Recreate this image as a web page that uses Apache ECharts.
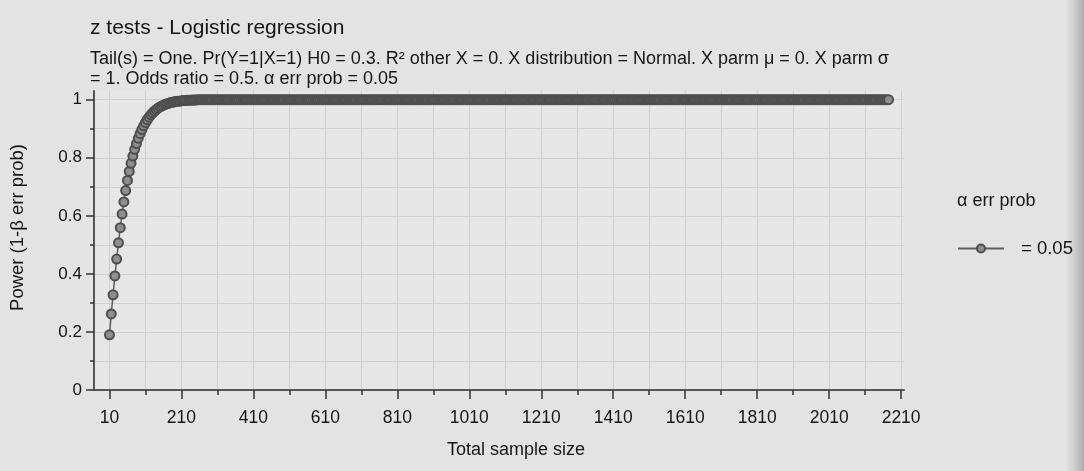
<!DOCTYPE html>
<html>
<head>
<meta charset="utf-8">
<script src="https://cdn.jsdelivr.net/npm/echarts@6/dist/echarts.min.js"></script>
<style>
html,body{margin:0;padding:0;background:#e3e3e3;}
#chart{width:1084px;height:471px;}
</style>
</head>
<body>
<div id="chart"></div>
<script>
var titleText = 'z tests - Logistic regression';
var subtitleText = 'Tail(s) = One. Pr(Y=1|X=1) H0 = 0.3. R\u00B2 other X = 0. X distribution = Normal. X parm \u03BC = 0. X parm \u03C3\n= 1. Odds ratio = 0.5. \u03B1 err prob = 0.05';
var xAxisName = 'Total sample size';
var yAxisName = 'Power (1-\u03B2 err prob)';
var legendTitle = '\u03B1 err prob';
var seriesName = '= 0.05';

var xLabelTicks = [10,210,410,610,810,1010,1210,1410,1610,1810,2010,2210];
var xAllTicks = [10,110,210,310,410,510,610,710,810,910,1010,1110,1210,1310,1410,1510,1610,1710,1810,1910,2010,2110,2210];
var yLabelTicks = [0,0.2,0.4,0.6,0.8,1];
var yAllTicks = [0,0.1,0.2,0.3,0.4,0.5,0.6,0.7,0.8,0.9,1];

var sampleSizes = [
10,15,20,25,30,35,40,45,50,55,60,65,70,75,80,85,90,95,100,105,
110,115,120,125,130,135,140,145,150,155,160,165,170,175,180,185,190,195,200,205,
210,215,220,225,230,235,240,245,250,255,260,265,270,275,280,285,290,295,300,305,
310,315,320,325,330,335,340,345,350,355,360,365,370,375,380,385,390,395,400,405,
410,415,420,425,430,435,440,445,450,455,460,465,470,475,480,485,490,495,500,505,
510,515,520,525,530,535,540,545,550,555,560,565,570,575,580,585,590,595,600,605,
610,615,620,625,630,635,640,645,650,655,660,665,670,675,680,685,690,695,700,705,
710,715,720,725,730,735,740,745,750,755,760,765,770,775,780,785,790,795,800,805,
810,815,820,825,830,835,840,845,850,855,860,865,870,875,880,885,890,895,900,905,
910,915,920,925,930,935,940,945,950,955,960,965,970,975,980,985,990,995,1000,1005,
1010,1015,1020,1025,1030,1035,1040,1045,1050,1055,1060,1065,1070,1075,1080,1085,1090,1095,1100,1105,
1110,1115,1120,1125,1130,1135,1140,1145,1150,1155,1160,1165,1170,1175,1180,1185,1190,1195,1200,1205,
1210,1215,1220,1225,1230,1235,1240,1245,1250,1255,1260,1265,1270,1275,1280,1285,1290,1295,1300,1305,
1310,1315,1320,1325,1330,1335,1340,1345,1350,1355,1360,1365,1370,1375,1380,1385,1390,1395,1400,1405,
1410,1415,1420,1425,1430,1435,1440,1445,1450,1455,1460,1465,1470,1475,1480,1485,1490,1495,1500,1505,
1510,1515,1520,1525,1530,1535,1540,1545,1550,1555,1560,1565,1570,1575,1580,1585,1590,1595,1600,1605,
1610,1615,1620,1625,1630,1635,1640,1645,1650,1655,1660,1665,1670,1675,1680,1685,1690,1695,1700,1705,
1710,1715,1720,1725,1730,1735,1740,1745,1750,1755,1760,1765,1770,1775,1780,1785,1790,1795,1800,1805,
1810,1815,1820,1825,1830,1835,1840,1845,1850,1855,1860,1865,1870,1875,1880,1885,1890,1895,1900,1905,
1910,1915,1920,1925,1930,1935,1940,1945,1950,1955,1960,1965,1970,1975,1980,1985,1990,1995,2000,2005,
2010,2015,2020,2025,2030,2035,2040,2045,2050,2055,2060,2065,2070,2075,2080,2085,2090,2095,2100,2105,
2110,2115,2120,2125,2130,2135,2140,2145,2150,2155,2160,2165,2170,2175
];

var powerValues = [
0.19,0.262,0.328,0.393,0.451,0.507,0.559,0.606,0.648,0.687,0.722,0.753,0.781,0.806,0.829,0.849,0.867,0.883,0.897,0.910,
0.921,0.931,0.940,0.948,0.955,0.961,0.966,0.971,0.975,0.978,0.981,0.984,0.986,0.988,0.990,0.991,0.993,0.994,0.995,0.995,
0.996,0.997,0.997,0.998,0.998,0.998,0.999,0.999,0.999,1,1,1,1,1,1,1,1,1,1,1,
1,1,1,1,1,1,1,1,1,1,1,1,1,1,1,1,1,1,1,1,
1,1,1,1,1,1,1,1,1,1,1,1,1,1,1,1,1,1,1,1,
1,1,1,1,1,1,1,1,1,1,1,1,1,1,1,1,1,1,1,1,
1,1,1,1,1,1,1,1,1,1,1,1,1,1,1,1,1,1,1,1,
1,1,1,1,1,1,1,1,1,1,1,1,1,1,1,1,1,1,1,1,
1,1,1,1,1,1,1,1,1,1,1,1,1,1,1,1,1,1,1,1,
1,1,1,1,1,1,1,1,1,1,1,1,1,1,1,1,1,1,1,1,
1,1,1,1,1,1,1,1,1,1,1,1,1,1,1,1,1,1,1,1,
1,1,1,1,1,1,1,1,1,1,1,1,1,1,1,1,1,1,1,1,
1,1,1,1,1,1,1,1,1,1,1,1,1,1,1,1,1,1,1,1,
1,1,1,1,1,1,1,1,1,1,1,1,1,1,1,1,1,1,1,1,
1,1,1,1,1,1,1,1,1,1,1,1,1,1,1,1,1,1,1,1,
1,1,1,1,1,1,1,1,1,1,1,1,1,1,1,1,1,1,1,1,
1,1,1,1,1,1,1,1,1,1,1,1,1,1,1,1,1,1,1,1,
1,1,1,1,1,1,1,1,1,1,1,1,1,1,1,1,1,1,1,1,
1,1,1,1,1,1,1,1,1,1,1,1,1,1,1,1,1,1,1,1,
1,1,1,1,1,1,1,1,1,1,1,1,1,1,1,1,1,1,1,1,
1,1,1,1,1,1,1,1,1,1,1,1,1,1,1,1,1,1,1,1,
1,1,1,1,1,1,1,1,1,1,1,1,1,1
];

var points = sampleSizes.map(function (n, i) { return [n, powerValues[i]]; });

var FONT = '"Liberation Sans", Arial, sans-serif';
var INK = '#151515';
var chart = echarts.init(document.getElementById('chart'), null, {renderer: 'canvas'});

var xMin = -33, xMax = 2218, yMin = 0, yMax = 1.03;
function plain(v) { return String(v); }

chart.setOption({
  backgroundColor: '#e3e3e3',
  animation: false,
  textStyle: {fontFamily: FONT},
  title: {
    text: titleText,
    subtext: subtitleText,
    left: 90,
    top: 17,
    padding: 0,
    itemGap: 10,
    textStyle: {fontSize: 21, fontWeight: 'normal', color: INK, fontFamily: FONT, lineHeight: 22},
    subtextStyle: {fontSize: 18, color: INK, lineHeight: 20, fontFamily: FONT}
  },
  graphic: [
    {type: 'text', left: 957, top: 192, style: {text: legendTitle, fontSize: 18, fill: INK, fontFamily: FONT}},
    {type: 'rect', shape: {x: 1066, y: 0, width: 18, height: 471}, silent: true,
      style: {fill: new echarts.graphic.LinearGradient(0, 0, 1, 0, [
        {offset: 0, color: 'rgba(180,180,180,0)'},
        {offset: 1, color: 'rgba(165,165,165,0.9)'}
      ])}}
  ],
  legend: {
    data: [seriesName],
    left: 952,
    top: 234,
    itemWidth: 46,
    itemHeight: 10,
    itemGap: 10,
    textStyle: {fontSize: 18.5, color: INK, fontFamily: FONT, padding: [0, 0, 0, 12]}
  },
  grid: {left: 91, right: 180, top: 91, bottom: 81, show: true, backgroundColor: '#e6e6e6', borderWidth: 0},
  xAxis: [
    {
      type: 'value', min: xMin, max: xMax, position: 'bottom',
      name: xAxisName, nameLocation: 'middle', nameGap: 51,
      nameTextStyle: {fontSize: 18, color: INK, fontFamily: FONT, padding: [0, 0, 0, 34]},
      axisLine: {show: true, onZero: false, lineStyle: {color: '#555', width: 2}},
      axisTick: {show: true, customValues: xAllTicks, length: 5, lineStyle: {color: '#333', width: 1.5}},
      axisLabel: {show: true, customValues: xLabelTicks, formatter: plain, fontSize: 17.5, color: INK, margin: 19, fontFamily: FONT},
      splitLine: {show: true, lineStyle: {color: '#cfcfcf', width: 1}}
    },
    {
      type: 'value', min: xMin, max: xMax, position: 'bottom',
      axisLine: {show: false, onZero: false},
      axisTick: {show: true, customValues: xLabelTicks, length: 9, lineStyle: {color: '#333', width: 1.5}},
      axisLabel: {show: false},
      splitLine: {show: false}
    }
  ],
  yAxis: [
    {
      type: 'value', min: yMin, max: yMax, position: 'left',
      name: yAxisName, nameLocation: 'middle', nameGap: 67,
      nameTextStyle: {fontSize: 18.5, color: INK, fontFamily: FONT, padding: [0, 0, 0, 26]},
      axisLine: {show: true, onZero: false, lineStyle: {color: '#555', width: 2}},
      axisTick: {show: true, customValues: yAllTicks, length: 4, lineStyle: {color: '#333', width: 1.5}},
      axisLabel: {show: true, customValues: yLabelTicks, formatter: plain, fontSize: 17, color: INK, margin: 12, fontFamily: FONT},
      splitLine: {show: true, lineStyle: {color: '#cfcfcf', width: 1}}
    },
    {
      type: 'value', min: yMin, max: yMax, position: 'left',
      axisLine: {show: false, onZero: false},
      axisTick: {show: true, customValues: yLabelTicks, length: 8, lineStyle: {color: '#333', width: 1.5}},
      axisLabel: {show: false},
      splitLine: {show: false}
    }
  ],
  series: [
    {
      name: seriesName,
      type: 'line',
      xAxisIndex: 0,
      yAxisIndex: 0,
      data: points,
      showAllSymbol: true,
      symbol: 'circle',
      symbolSize: 9,
      itemStyle: {color: '#8e8e8e', borderColor: '#4e4e4e', borderWidth: 2},
      lineStyle: {color: '#5e5e5e', width: 1.5},
      emphasis: {disabled: true}
    }
  ]
});
</script>
</body>
</html>
